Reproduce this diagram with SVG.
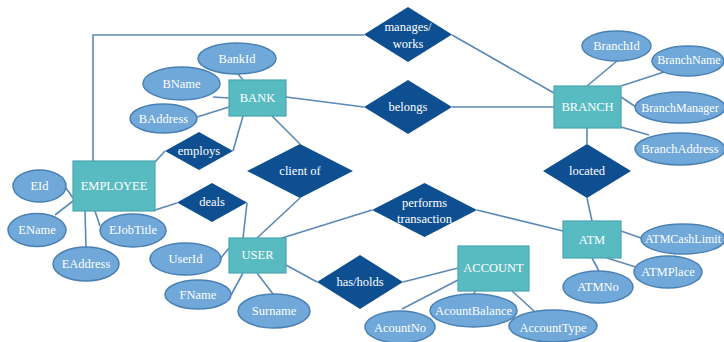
<svg xmlns="http://www.w3.org/2000/svg" width="724" height="342" viewBox="0 0 724 342" font-family="'Liberation Serif', 'Times New Roman', 'DejaVu Serif', serif">
<style>
.ent{fill:#59bbc2;stroke:#4aa6b0;stroke-width:1.2}
.att{fill:#6fa8d9;stroke:#4a80b3;stroke-width:1.5}
.rel{fill:#0e4f91;stroke:none}
.c{stroke:#5b89b6;stroke-width:1.6;fill:none}
text{font-family:'Liberation Serif','Times New Roman','DejaVu Serif',serif;font-size:12.5px;fill:#ffffff;text-anchor:middle;dominant-baseline:central}
</style>
<rect width="724" height="342" fill="#ffffff"/>
<g id="connectors">
<polyline class="c" points="364,35 93,35 93,161"/>
<line class="c" x1="452" y1="35" x2="554" y2="93"/>
<line class="c" x1="286" y1="97" x2="364" y2="107"/>
<line class="c" x1="452" y1="107" x2="554" y2="107"/>
<line class="c" x1="238" y1="74" x2="243" y2="80"/>
<line class="c" x1="213" y1="97" x2="229" y2="98"/>
<line class="c" x1="197" y1="117" x2="229" y2="107"/>
<line class="c" x1="243" y1="116" x2="233" y2="151"/>
<line class="c" x1="165" y1="151" x2="155" y2="162"/>
<line class="c" x1="272" y1="116" x2="300" y2="144"/>
<line class="c" x1="300" y1="198" x2="257" y2="238"/>
<line class="c" x1="155" y1="210" x2="177" y2="203"/>
<line class="c" x1="247" y1="203" x2="243" y2="238"/>
<line class="c" x1="66" y1="188" x2="73" y2="198"/>
<line class="c" x1="55" y1="215" x2="73" y2="201"/>
<line class="c" x1="85" y1="211" x2="86" y2="247"/>
<line class="c" x1="95" y1="211" x2="100" y2="226"/>
<line class="c" x1="220" y1="259" x2="229" y2="248"/>
<line class="c" x1="231" y1="295" x2="243" y2="273"/>
<line class="c" x1="257" y1="273" x2="273" y2="294"/>
<line class="c" x1="282" y1="238" x2="372" y2="210"/>
<line class="c" x1="477" y1="210" x2="563" y2="231"/>
<line class="c" x1="286" y1="265" x2="317" y2="282"/>
<line class="c" x1="403" y1="282" x2="458" y2="268"/>
<line class="c" x1="458" y1="280" x2="402" y2="309"/>
<line class="c" x1="475" y1="291" x2="474" y2="294"/>
<line class="c" x1="512" y1="291" x2="534" y2="311"/>
<line class="c" x1="587" y1="128" x2="587" y2="144"/>
<line class="c" x1="587" y1="198" x2="592" y2="221"/>
<line class="c" x1="587" y1="86" x2="617" y2="61"/>
<line class="c" x1="621" y1="86" x2="664" y2="72"/>
<line class="c" x1="621" y1="97" x2="636" y2="107"/>
<line class="c" x1="621" y1="127" x2="649" y2="135"/>
<line class="c" x1="621" y1="231" x2="641" y2="238"/>
<line class="c" x1="607" y1="258" x2="639" y2="268"/>
<line class="c" x1="592" y1="258" x2="599" y2="271"/>
</g>
<g id="manages"><polygon class="rel" points="364,34.5 408,7 452,34.5 408,62"/><text x="408" y="27">manages/</text><text x="408" y="44">works</text></g>
<g id="belongs"><polygon class="rel" points="364,107 408,80 452,107 408,134"/><text x="408" y="107">belongs</text></g>
<g id="employs"><polygon class="rel" points="165,151 199,132 233,151 199,170"/><text x="199" y="151">employs</text></g>
<g id="clientof"><polygon class="rel" points="247,171 300,144 353,171 300,198"/><text x="300" y="171">client of</text></g>
<g id="deals"><polygon class="rel" points="177,202.5 212,183 247,202.5 212,222"/><text x="212" y="202">deals</text></g>
<g id="performs"><polygon class="rel" points="372,210 424.5,183 477,210 424.5,237"/><text x="424.5" y="203">performs</text><text x="424.5" y="219">transaction</text></g>
<g id="hasholds"><polygon class="rel" points="317,282 360,255 403,282 360,309"/><text x="360" y="282">has/holds</text></g>
<g id="located"><polygon class="rel" points="543,171 587,144 631,171 587,198"/><text x="587" y="171">located</text></g>
<g id="bank"><rect class="ent" x="229" y="80" width="57" height="36"/><text x="257.5" y="98">BANK</text></g>
<g id="branch"><rect class="ent" x="554" y="86" width="67" height="42"/><text x="587.5" y="107">BRANCH</text></g>
<g id="employee"><rect class="ent" x="73" y="161" width="82" height="50"/><text x="114" y="186">EMPLOYEE</text></g>
<g id="user"><rect class="ent" x="229" y="238" width="57" height="35"/><text x="257.5" y="255">USER</text></g>
<g id="account"><rect class="ent" x="458" y="246" width="71" height="45"/><text x="493.5" y="268">ACCOUNT</text></g>
<g id="atm"><rect class="ent" x="563" y="221" width="58" height="37"/><text x="592" y="240">ATM</text></g>
<g id="bankid"><ellipse class="att" cx="237" cy="58.5" rx="39" ry="15.5"/><text x="237" y="59">BankId</text></g>
<g id="bname"><ellipse class="att" cx="181.5" cy="83.5" rx="38.5" ry="16.5"/><text x="181.5" y="84">BName</text></g>
<g id="baddress"><ellipse class="att" cx="163.5" cy="118.5" rx="33.5" ry="14.5"/><text x="163.5" y="119">BAddress</text></g>
<g id="branchid"><ellipse class="att" cx="616.5" cy="46" rx="34.5" ry="15"/><text x="616.5" y="46">BranchId</text></g>
<g id="branchname"><ellipse class="att" cx="688" cy="61" rx="36" ry="15"/><text x="689" y="60" style="font-size:12px">BranchName</text></g>
<g id="branchmanager"><ellipse class="att" cx="680" cy="107.5" rx="45" ry="15.5"/><text x="680" y="108" style="font-size:12px">BranchManager</text></g>
<g id="branchaddress"><ellipse class="att" cx="680" cy="149" rx="45" ry="16"/><text x="680" y="149">BranchAddress</text></g>
<g id="eid"><ellipse class="att" cx="39.5" cy="186" rx="26.5" ry="16"/><text x="39.5" y="186">EId</text></g>
<g id="ename"><ellipse class="att" cx="37" cy="230" rx="29" ry="16.5"/><text x="37" y="230">EName</text></g>
<g id="eaddress"><ellipse class="att" cx="86" cy="264" rx="33" ry="17"/><text x="86" y="264">EAddress</text></g>
<g id="ejobtitle"><ellipse class="att" cx="133" cy="230.5" rx="33" ry="16.5"/><text x="133" y="230">EJobTitle</text></g>
<g id="userid"><ellipse class="att" cx="185.5" cy="259" rx="35.5" ry="16"/><text x="185.5" y="259">UserId</text></g>
<g id="fname"><ellipse class="att" cx="198" cy="294.5" rx="33" ry="14.5"/><text x="198" y="295">FName</text></g>
<g id="surname"><ellipse class="att" cx="274" cy="311" rx="36" ry="17"/><text x="274" y="311">Surname</text></g>
<g id="acountno"><ellipse class="att" cx="400" cy="327" rx="35" ry="16"/><text x="400" y="328">AcountNo</text></g>
<g id="acountbalance"><ellipse class="att" cx="473.5" cy="310.5" rx="43.5" ry="16.5"/><text x="473.5" y="311">AcountBalance</text></g>
<g id="accounttype"><ellipse class="att" cx="553" cy="326" rx="44" ry="16"/><text x="553" y="328">AccountType</text></g>
<g id="atmcashlimit"><ellipse class="att" cx="683" cy="239" rx="42" ry="15"/><text x="683" y="239" style="font-size:12px">ATMCashLimit</text></g>
<g id="atmplace"><ellipse class="att" cx="668" cy="272" rx="34" ry="16"/><text x="668" y="272">ATMPlace</text></g>
<g id="atmno"><ellipse class="att" cx="598" cy="287" rx="35" ry="16"/><text x="598" y="287">ATMNo</text></g>
</svg>
